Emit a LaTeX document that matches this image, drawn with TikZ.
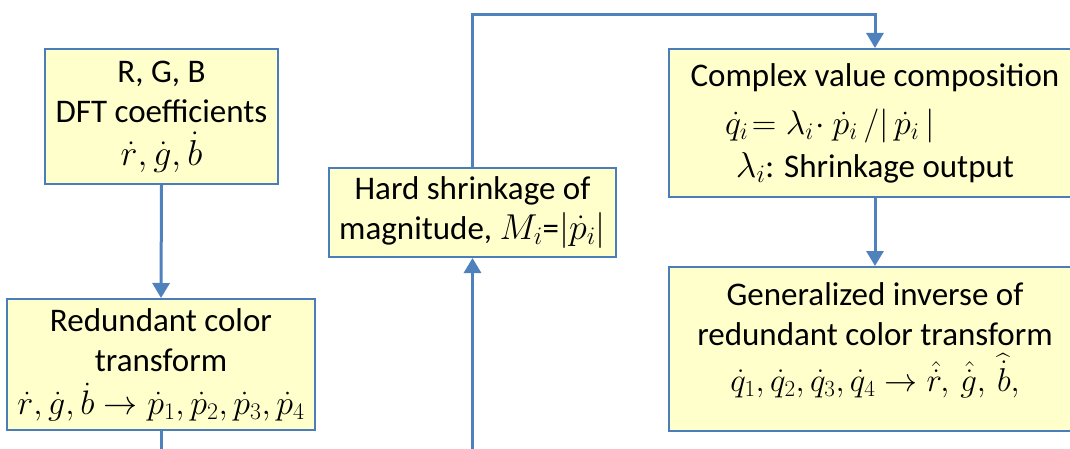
\RequirePackage{fix-cm}
\documentclass[tikz,border=0pt]{standalone}
\usepackage{amsmath}
\usepackage{fontspec}
\setmainfont{Carlito}
\usetikzlibrary{arrows.meta}

\definecolor{boxfill}{HTML}{FFFFCC}
\definecolor{boxline}{HTML}{4A7EBB}
\definecolor{flow}{HTML}{4F81BD}

% formulas at a chosen size
\newcommand{\fml}[2][36]{{\fontsize{#1}{40}\selectfont$#2$}}

\tikzset{
  stage/.style={draw=boxline, line width=2pt, fill=boxfill, inner sep=0pt,
    align=center, font=\fontsize{33}{40}\selectfont},
  link/.style={draw=flow, line width=3pt},
  linkarrow/.style={link, -{Triangle[width=17pt,length=15pt]}},
}

\begin{document}
\begin{tikzpicture}[x=1pt, y=-1pt]
\useasboundingbox (0,0) rectangle (1070,449);
\clip (0,0) rectangle (1070,449);

% processing stages
\node[stage, minimum width=233pt, minimum height=135pt] (dft) at (161.5,116.5)
  {R, G, B\\ DFT coefficients\\[3pt] \fml{\dot r,\dot g,\dot b}};
\node[stage, minimum width=308pt, minimum height=131pt] (rct) at (161,364.5)
  {Redundant color\\ transform\\[3pt] \fml[34]{\dot r,\dot g,\dot b\rightarrow \dot p_1,\dot p_2,\dot p_3,\dot p_4}};
\node[stage, minimum width=287pt, minimum height=89pt] (shrink) at (472.5,212.5)
  {Hard shrinkage of\\ magnitude, \fml{M_i}=\fml{|\dot p_i|}};
\node[stage, minimum width=412pt, minimum height=148pt] (compose) at (875,123)
  {Complex value composition\\[8pt]
   \makebox[300pt][l]{\fml[34]{\dot q_i\!=\lambda_i\!\cdot\dot p_i\,/|\,\dot p_i\,|}}\\[3pt]
   \fml{\lambda_i}: Shrinkage output};
\node[stage, minimum width=412pt, minimum height=164pt] (inverse) at (875,349)
  {Generalized inverse of\\ redundant color transform\\[6pt]
   \fml[33]{\dot q_1,\dot q_2,\dot q_3,\dot q_4\rightarrow \hat{\dot r},\,\hat{\dot g},\,\widehat{\dot b},}\\[-16pt]\mbox{}};

% free ends and bend point of the connectors
\coordinate (rctout) at (161,460);
\coordinate (shrinkin) at (472.5,460);
\coordinate (topbend) at (700,15);

% connectors
\draw[linkarrow] (dft.south) -- (rct.north);
\draw[link] (rct.south) -- (rctout);
\draw[linkarrow] (shrinkin) -- (shrink.south);
\draw[linkarrow] (shrink.north) |- (topbend) -| (compose.north);
\draw[linkarrow] (compose.south) -- (inverse.north);
\end{tikzpicture}
\end{document}
